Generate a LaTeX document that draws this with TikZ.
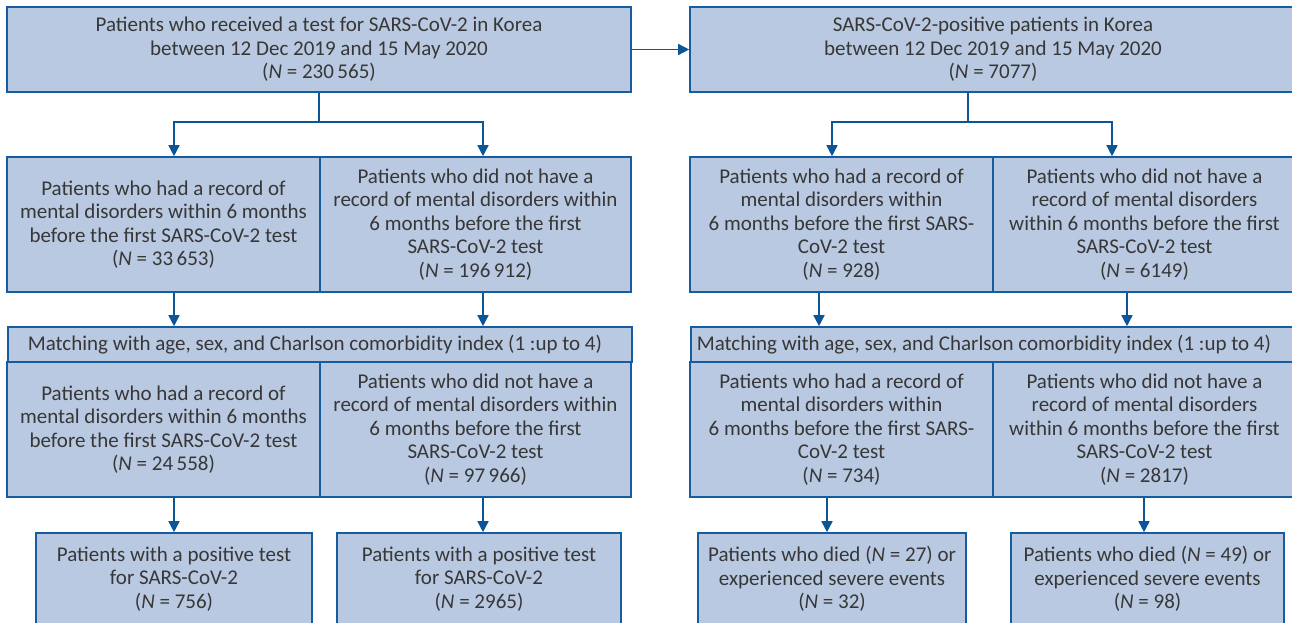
\documentclass[tikz,border=0pt]{standalone}
\usepackage{fontspec}
\setmainfont{Carlito}
\usetikzlibrary{arrows.meta}
\definecolor{boxfill}{RGB}{185,201,225}
\definecolor{boxline}{RGB}{22,92,158}
\definecolor{arrowc}{RGB}{12,85,150}
\definecolor{txt}{RGB}{55,55,55}
\tikzset{
  box/.style={draw=boxline, fill=boxfill, line width=1.6pt, inner sep=0pt,
    align=center, text=txt, font=\fontsize{21}{23.5}\selectfont},
  hdr/.style={box, align=flush left, anchor=west},
  arr/.style={draw=arrowc, line width=1.5pt, -{Triangle[width=11pt,length=11pt]}},
  ln/.style={draw=arrowc, line width=1.5pt}
}
\begin{document}
\begin{tikzpicture}[x=1pt,y=-1pt]
\useasboundingbox (0,0) rectangle (1292,623);
% top row
\node[box, minimum width=624, minimum height=85] (A) at (319,49.5)
  {Patients who received a test for SARS-CoV-2 in Korea\\between 12 Dec 2019 and 15 May 2020\\(\textit{N} = 230\,565)};
\node[box, minimum width=606, minimum height=85] (B) at (993,49.5)
  {SARS-CoV-2-positive patients in Korea\\between 12 Dec 2019 and 15 May 2020\\(\textit{N} = 7077)};
% second row
\node[box, minimum width=313, minimum height=135] (L1) at (163.5,224.5)
  {Patients who had a record of\\mental disorders within 6 months\\before the first SARS-CoV-2 test\\(\textit{N} = 33\,653)};
\node[box, minimum width=311, minimum height=135] (L2) at (475.5,224.5)
  {Patients who did not have a\\record of mental disorders within\\6 months before the first\\SARS-CoV-2 test\\(\textit{N} = 196\,912)};
\node[box, minimum width=303, minimum height=135] (R1) at (841.5,224.5)
  {Patients who had a record of\\mental disorders within\\6 months before the first SARS-\\CoV-2 test\\(\textit{N} = 928)};
\node[box, minimum width=303, minimum height=135] (R2) at (1144.5,224.5)
  {Patients who did not have a\\record of mental disorders\\within 6 months before the first\\SARS-CoV-2 test\\(\textit{N} = 6149)};
% matching headers
\node[hdr, minimum width=624, minimum height=35, text width=584, inner xsep=20pt] (MH) at (7,344.5)
  {Matching with age, sex, and Charlson comorbidity index (1 :up to 4)};
\node[hdr, minimum width=606, minimum height=35, text width=594, inner xsep=6pt] (MHR) at (690,344.5)
  {Matching with age, sex, and Charlson comorbidity index (1 :up to 4)};
% matched row
\node[box, minimum width=313, minimum height=135] (ML1) at (163.5,429.5)
  {Patients who had a record of\\mental disorders within 6 months\\before the first SARS-CoV-2 test\\(\textit{N} = 24\,558)};
\node[box, minimum width=311, minimum height=135] (ML2) at (475.5,429.5)
  {Patients who did not have a\\record of mental disorders within\\6 months before the first\\SARS-CoV-2 test\\(\textit{N} = 97\,966)};
\node[box, minimum width=303, minimum height=135] (MR1) at (841.5,429.5)
  {Patients who had a record of\\mental disorders within\\6 months before the first SARS-\\CoV-2 test\\(\textit{N} = 734)};
\node[box, minimum width=303, minimum height=135] (MR2) at (1144.5,429.5)
  {Patients who did not have a\\record of mental disorders\\within 6 months before the first\\SARS-CoV-2 test\\(\textit{N} = 2817)};
% bottom row
\node[box, minimum width=276, minimum height=92] (BL1) at (174,579)
  {Patients with a positive test\\for SARS-CoV-2\\(\textit{N} = 756)};
\node[box, minimum width=284, minimum height=92] (BL2) at (479,579)
  {Patients with a positive test\\for SARS-CoV-2\\(\textit{N} = 2965)};
\node[box, minimum width=268, minimum height=92] (BR1) at (832,579)
  {Patients who died (\textit{N} = 27) or\\experienced severe events\\(\textit{N} = 32)};
\node[box, minimum width=273, minimum height=92] (BR2) at (1147.5,579)
  {Patients who died (\textit{N} = 49) or\\experienced severe events\\(\textit{N} = 98)};
% connectors
\draw[arr] (A.east) -- (B.west);
\coordinate (jA) at (319,122);
\draw[ln] (A.south) -- (jA);
\draw[arr] (jA) -| ([xshift=10.5pt]L1.north);
\draw[arr] (jA) -| ([xshift=7.5pt]L2.north);
\coordinate (jB) at (968,122);
\draw[ln] ([xshift=-25pt]B.south) -- (jB);
\draw[arr] (jB) -| ([xshift=-9.5pt]R1.north);
\draw[arr] (jB) -| ([xshift=-32.5pt]R2.north);
\draw[arr] ([xshift=10.5pt]L1.south) -- ([xshift=10.5pt]L1.south |- MH.north);
\draw[arr] ([xshift=7.5pt]L2.south) -- ([xshift=7.5pt]L2.south |- MH.north);
\draw[arr] ([xshift=-22.5pt]R1.south) -- ([xshift=-22.5pt]R1.south |- MHR.north);
\draw[arr] ([xshift=-17.5pt]R2.south) -- ([xshift=-17.5pt]R2.south |- MHR.north);
\draw[arr] ([xshift=10.5pt]ML1.south) -- (BL1.north);
\draw[arr] ([xshift=7.5pt]ML2.south) -- ([xshift=7.5pt]ML2.south |- BL2.north);
\draw[arr] ([xshift=-14.5pt]MR1.south) -- ([xshift=-14.5pt]MR1.south |- BR1.north);
\draw[arr] ([xshift=-0.5pt]MR2.south) -- ([xshift=-0.5pt]MR2.south |- BR2.north);
\end{tikzpicture}
\end{document}
